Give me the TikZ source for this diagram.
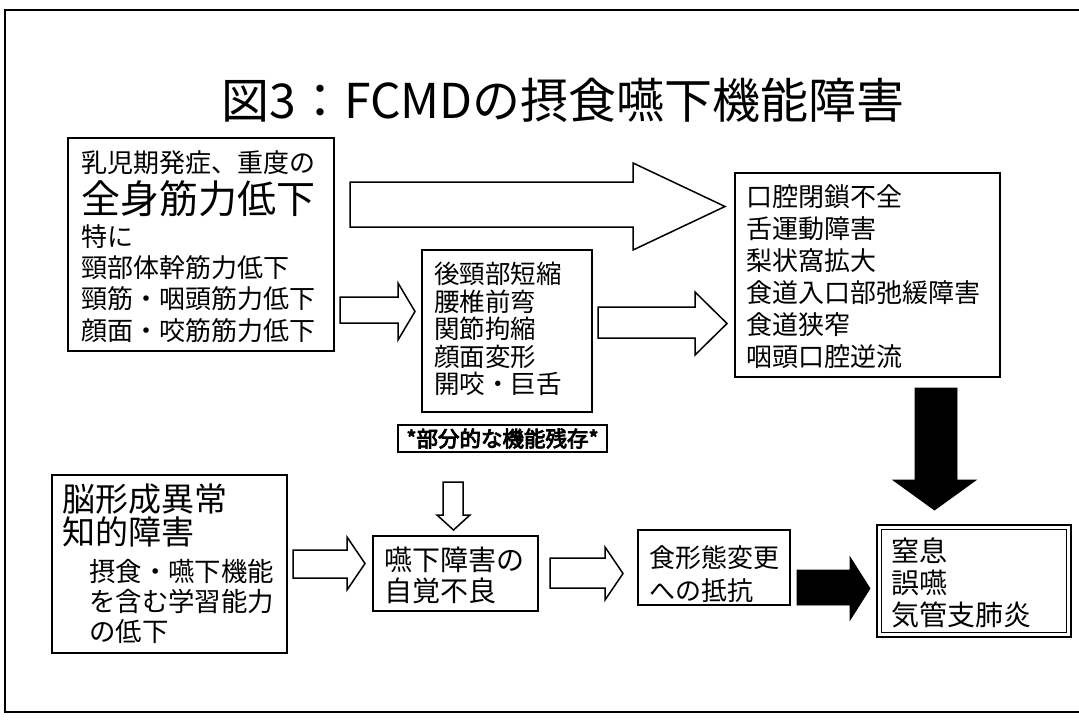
\documentclass[tikz,border=0pt]{standalone}
\usepackage{fontspec}
\newfontfamily\jp{Noto Sans CJK JP}
\newfontfamily\jpb[FakeBold=4]{Noto Sans CJK JP}
\newcommand{\Rarr}[8]{\draw[#1] (#2,#5) -- (#3,#5) -- (#3,#7) -- (#4,{(#7+#8)/2}) -- (#3,#8) -- (#3,#6) -- (#2,#6) -- cycle;}
\newcommand{\Darr}[8]{\draw[#1] (#5,#2) -- (#5,#3) -- (#7,#3) -- ({(#7+#8)/2},#4) -- (#8,#3) -- (#6,#3) -- (#6,#2) -- cycle;}
\tikzset{
  box/.style={draw, line width=1.5pt, inner sep=0pt, fill=white},
  txt/.style={anchor=base west, inner sep=0pt, font=\jp\fontsize{26}{30}\selectfont},
  hollow/.style={draw, line width=1.5pt, fill=white, line join=miter},
  solidarr/.style={draw, fill=black, line width=0.8pt, line join=miter},
}
\begin{document}
\begin{tikzpicture}[x=1pt,y=-1pt]
\useasboundingbox (0,0) rectangle (1079,728);
% frame
\draw[line width=1.5pt] (1079,10) -- (5,10) -- (5,712) -- (1079,712);
% title
\node[font=\jp\fontsize{48}{50}\selectfont, inner sep=0pt] (title) at (563,100) {図3：FCMDの摂食嚥下機能障害};

% arrows (block shapes)
\Rarr{hollow}{350}{633}{725}{182}{227}{163}{250}
\Rarr{hollow}{340}{398}{415}{297}{323}{283}{340}
\Rarr{hollow}{598}{695}{727}{307}{338}{292}{355}
\Darr{solidarr}{388}{480}{510}{915}{957}{893}{976}
\Darr{hollow}{482}{515}{530}{443}{463}{437}{470}
\Rarr{hollow}{293}{347}{365}{550}{578}{537}{590}
\Rarr{hollow}{550}{605}{623}{558}{588}{547}{600}
\Rarr{solidarr}{797}{850}{870}{570}{605}{557}{620}

% top-left box
\node[box, minimum width=266pt, minimum height=213pt] (tl) at (201,244.5) {};
\node[txt] (tl1) at (81,172) {乳児期発症、重度の};
\node[txt, font=\jp\fontsize{39}{42}\selectfont] (tl2) at (81,213) {全身筋力低下};
\node[txt] (tl3) at (81,246) {特に};
\node[txt] (tl4) at (81,277) {頸部体幹筋力低下};
\node[txt] (tl5) at (81,308.5) {頸筋・咽頭筋力低下};
\node[txt] (tl6) at (81,340) {顔面・咬筋筋力低下};

% middle box
\node[box, minimum width=170pt, minimum height=162pt] (mid) at (507,331) {};
\node[txt, font=\jp\fontsize{25.5}{28}\selectfont] (m1) at (434,283.7) {後頸部短縮};
\node[txt, font=\jp\fontsize{25.5}{28}\selectfont] (m2) at (434,311.2) {腰椎前弯};
\node[txt, font=\jp\fontsize{25.5}{28}\selectfont] (m3) at (434,338.7) {関節拘縮};
\node[txt, font=\jp\fontsize{25.5}{28}\selectfont] (m4) at (434,366.2) {顔面変形};
\node[txt, font=\jp\fontsize{25.5}{28}\selectfont] (m5) at (434,393.7) {開咬・巨舌};

% label box
\node[box, minimum width=209pt, minimum height=27pt, font=\jpb\fontsize{21.5}{24}\selectfont] (lab) at (502.5,438.5) {*部分的な機能残存*};

% right box
\node[box, minimum width=265pt, minimum height=204pt] (rt) at (867.5,275) {};
\node[txt] (r1) at (746,206) {口腔閉鎖不全};
\node[txt] (r2) at (746,238) {舌運動障害};
\node[txt] (r3) at (746,270) {梨状窩拡大};
\node[txt] (r4) at (746,302) {食道入口部弛緩障害};
\node[txt] (r5) at (746,334) {食道狭窄};
\node[txt] (r6) at (746,366) {咽頭口腔逆流};

% final box (double border)
\node[box, line width=2pt, minimum width=194pt, minimum height=112pt] (fin) at (974,581) {};
\node[draw, line width=1.3pt, inner sep=0pt, minimum width=185pt, minimum height=103pt] (fini) at (fin.center) {};
\node[txt, font=\jp\fontsize{28}{30}\selectfont] (f1) at (891,561.6) {窒息};
\node[txt, font=\jp\fontsize{28}{30}\selectfont] (f2) at (891,593.6) {誤嚥};
\node[txt, font=\jp\fontsize{28}{30}\selectfont] (f3) at (891,625.6) {気管支肺炎};

% bottom-left box
\node[box, minimum width=235pt, minimum height=178pt] (bl) at (169.5,564) {};
\node[txt, font=\jp\fontsize{33}{36}\selectfont] (b1) at (62,511.5) {脳形成異常};
\node[txt, font=\jp\fontsize{33}{36}\selectfont] (b2) at (62,544.5) {知的障害};
\node[txt, font=\jp\fontsize{26.4}{30}\selectfont] (b3) at (89,581) {摂食・嚥下機能};
\node[txt, font=\jp\fontsize{26.4}{30}\selectfont] (b4) at (89,611) {を含む学習能力};
\node[txt, font=\jp\fontsize{26.4}{30}\selectfont] (b5) at (89,641) {の低下};

% swallowing awareness box
\node[box, minimum width=165pt, minimum height=75pt] (sw) at (455.5,573.5) {};
\node[txt, font=\jp\fontsize{28}{30}\selectfont] (s1) at (384,570.6) {嚥下障害の};
\node[txt, font=\jp\fontsize{28}{30}\selectfont] (s2) at (384,601.6) {自覚不良};

% food form box
\node[box, minimum width=152pt, minimum height=75pt] (food) at (714,567.5) {};
\node[txt] (fd1) at (649,567) {食形態変更};
\node[txt] (fd2) at (649,600) {への抵抗};
\end{tikzpicture}
\end{document}
